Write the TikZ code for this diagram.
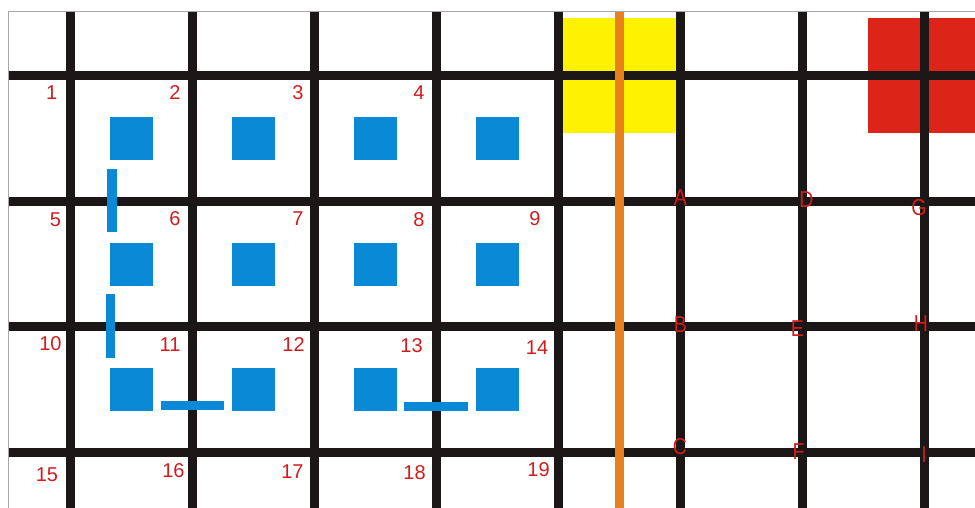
\documentclass[tikz,border=0pt]{standalone}
\usepackage{fontspec}
\setmainfont{Liberation Sans}
\usepackage{xcolor}
\usepackage{tikz}
\usetikzlibrary{positioning}
\definecolor{cGrid}{HTML}{1A1716}
\definecolor{cBlue}{HTML}{0A8AD6}
\definecolor{cOrange}{HTML}{E8801E}
\definecolor{cYellow}{HTML}{FFF200}
\definecolor{cRed}{HTML}{DC2418}
\definecolor{cLabel}{HTML}{D01C1C}
\definecolor{cFrame}{HTML}{A8A8A8}
\tikzset{
  gline/.style={draw=cGrid,line width=9pt},
  oline/.style={draw=cOrange,line width=9pt},
  sq/.style={fill=cBlue},
  bar/.style={fill=cBlue},
  numlbl/.style={text=cLabel,font=\fontsize{20}{20}\selectfont,inner sep=0pt},
  ptlbl/.style={text=cLabel,font=\fontsize{23}{23}\selectfont,inner sep=0pt,xscale=0.85},
}
\begin{document}
\begin{tikzpicture}[x=1pt,y=-1pt]
  \useasboundingbox (0,0) rectangle (975,508);
  % coloured patches
  \fill[cYellow] (563,18) rectangle (676,133);
  \fill[cRed] (868,18) rectangle (975,133);
  % grid
  \foreach \x in {70.5,192.5,314.5,436,558.5,680.5,802.5,924.5}{\draw[gline] (\x,12) -- (\x,508);}
  \foreach \y in {75.3,201.5,326.5,452.5}{\draw[gline] (8,\y) -- (975,\y);}
  \draw[oline] (619,12) -- (619,508);
  \draw[cFrame,line width=1pt] (975,12) -- (8,12) -- (8,508);
  % blue squares
  \foreach \c in {131.5,253.5,375.25,497.25}{
    \foreach \r in {138.4,264,389.5}{\fill[sq] (\c-21.5,\r-21.5) rectangle ++(43,43);}}
  \fill[bar] (107,169) rectangle (117,232);
  \fill[bar] (106,294) rectangle (115,358);
  \fill[bar] (161,401) rectangle (224,410);
  \fill[bar] (404,402) rectangle (468,411);
  % cell numbers
  \foreach \x/\y/\t in {51.7/93/1,175/93/2,298/93/3,419/93/4,
      55.5/219.5/5,175/219/6,298/219/7,419/220/8,535/219/9,
      50.5/344/10,170/345/11,293.5/345/12,411.5/345.5/13,537/348/14,
      47/474.5/15,173.5/470.5/16,292.5/472/17,414.5/472.5/18,538.5/469.5/19}
    {\node[numlbl] (n\t) at (\x,\y) {\t};}
  % crossing points
  \foreach \x/\y/\t in {680.5/197.5/A,680.5/325/B,680/446.5/C,
      806.5/200/D,797.5/328.5/E,798.5/452/F,
      919/207.5/G,921/324/H,924/454.5/I}
    {\node[ptlbl] (p\t) at (\x,\y) {\t};}
\end{tikzpicture}
\end{document}
